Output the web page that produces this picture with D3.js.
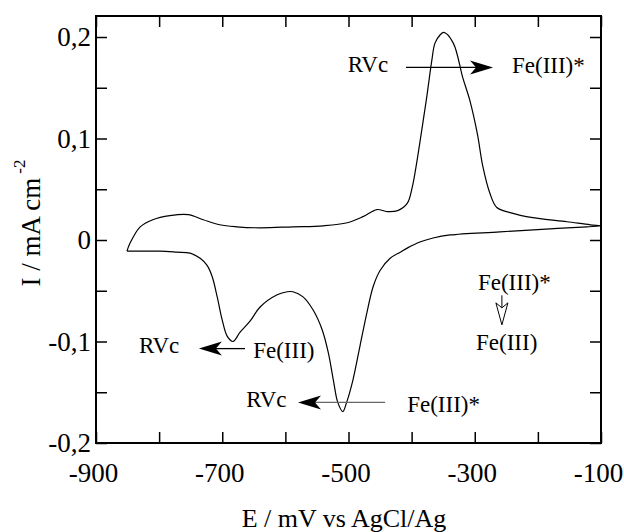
<!DOCTYPE html>
<html>
<head>
<meta charset="utf-8">
<script src="https://cdn.jsdelivr.net/npm/d3@7"></script>
<style>
body { margin: 0; background: #fff; }
text { font-family: "Liberation Serif", "Times New Roman", serif; fill: #000; }
</style>
</head>
<body>
<div id="chart"></div>
<script>
// scan path: anodic sweep from -850 mV to -100 mV, then back
var potential = [-851, -846, -830, -810, -783, -754, -730, -704, -677, -640, -588, -540, -502,
	-477, -455, -439, -422, -407, -399, -392, -384, -376, -368, -363, -355, -349, -334, -319,
	-308, -296, -287, -276, -265, -244, -208, -154, -117, -100,
	-122, -181, -260, -339, -366, -387, -407, -418, -434, -450, -461, -471, -482, -493, -503,
	-509, -517, -524, -532, -542, -556, -572, -588, -597, -613, -640, -656, -672, -683, -692,
	-700, -708, -716, -724, -735, -751, -772, -799, -826, -851];
var current = [-0.011, -0.003, 0.013, 0.020, 0.024, 0.025, 0.020, 0.015, 0.013, 0.012, 0.013, 0.014, 0.017,
	0.023, 0.030, 0.028, 0.029, 0.036, 0.052, 0.076, 0.108, 0.141, 0.177, 0.194, 0.202, 0.2045, 0.194, 0.160,
	0.138, 0.105, 0.072, 0.046, 0.032, 0.027, 0.022, 0.018, 0.015, 0.014,
	0.013, 0.011, 0.008, 0.005, 0.002, -0.002, -0.008, -0.012, -0.018, -0.030, -0.046, -0.072, -0.105, -0.138, -0.160,
	-0.169, -0.160, -0.138, -0.111, -0.088, -0.069, -0.056, -0.051, -0.051, -0.054, -0.066, -0.080, -0.091, -0.100, -0.095,
	-0.079, -0.056, -0.036, -0.025, -0.018, -0.013, -0.012, -0.011, -0.011, -0.011];

var xTicks = [-900, -800, -700, -600, -500, -400, -300, -200, -100];
var xLabels = [-900, -700, -500, -300, -100];
var yTicks = [-0.2, -0.15, -0.1, -0.05, 0, 0.05, 0.1, 0.15, 0.2];
var yLabels = [-0.2, -0.1, 0, 0.1, 0.2];

// annotation texts, placed in data coordinates (mV, mA cm-2)
var labels = [
	{t: "RVc", e: -501, i: 0.166},
	{t: "Fe(III)*", e: -241, i: 0.165},
	{t: "RVc", e: -832, i: -0.111},
	{t: "Fe(III)", e: -651, i: -0.116},
	{t: "RVc", e: -662, i: -0.165},
	{t: "Fe(III)*", e: -407, i: -0.169},
	{t: "Fe(III)*", e: -295, i: -0.049},
	{t: "Fe(III)", e: -298, i: -0.108}
];
var arrows = [
	{e0: -409, e1: -271, i: 0.170, col: "#000"},
	{e0: -664, e1: -737, i: -0.107, col: "#000"},
	{e0: -442, e1: -580, i: -0.160, col: "#666"}
];

var width = 624, height = 532;
var mLeft = 96, mTop = 16, mRight = 601, mBottom = 443;

var svg = d3.select("#chart").append("svg")
	.attr("width", width)
	.attr("height", height);

var x = d3.scaleLinear().domain([-900, -100]).range([mLeft, mRight]);
var y = d3.scaleLinear().domain([-0.2, 0.2207]).range([mBottom, mTop]);

function fmtY(d) {
	if (yLabels.indexOf(d) < 0) return "";
	return String(d).replace(".", ",");
}
function fmtX(d) {
	return xLabels.indexOf(d) < 0 ? "" : String(d);
}

var gB = svg.append("g").attr("transform", "translate(0," + mBottom + ")")
	.call(d3.axisBottom(x).tickValues(xTicks).tickSizeInner(-11).tickSizeOuter(0).tickPadding(20).tickFormat(fmtX));
var gT = svg.append("g").attr("transform", "translate(0," + mTop + ")")
	.call(d3.axisTop(x).tickValues(xTicks).tickSizeInner(-11).tickSizeOuter(0).tickFormat(""));
var gL = svg.append("g").attr("transform", "translate(" + mLeft + ",0)")
	.call(d3.axisLeft(y).tickValues(yTicks).tickSizeInner(-11).tickSizeOuter(0).tickPadding(5).tickFormat(fmtY));
var gR = svg.append("g").attr("transform", "translate(" + mRight + ",0)")
	.call(d3.axisRight(y).tickValues(yTicks).tickSizeInner(-11).tickSizeOuter(0).tickFormat(""));

[gB, gT, gL, gR].forEach(function(g) {
	g.select(".domain").remove();
	g.selectAll(".tick line").attr("stroke", "#000").attr("stroke-width", 1.5);
	g.selectAll("text").style("font-size", "27px").attr("font-family", null).attr("fill", "#000");
});
gB.selectAll("text").attr("dx", -3);

svg.append("rect")
	.attr("x", mLeft).attr("y", mTop)
	.attr("width", mRight - mLeft).attr("height", mBottom - mTop)
	.attr("fill", "none").attr("stroke", "#000").attr("stroke-width", 2);

// the voltammogram
var pts = potential.map(function(e, k) { return [e, current[k]]; });
var line = d3.line()
	.x(function(d) { return x(d[0]); })
	.y(function(d) { return y(d[1]); })
	.curve(d3.curveCatmullRom.alpha(0.5));

svg.append("path")
	.attr("d", line(pts))
	.attr("fill", "none")
	.attr("stroke", "#000")
	.attr("stroke-width", 1.2);

// annotations
svg.selectAll(".ann")
	.data(labels)
	.enter().append("text")
	.attr("class", "ann")
	.attr("x", function(d) { return x(d.e); })
	.attr("y", function(d) { return y(d.i); })
	.style("font-size", "23px")
	.text(function(d) { return d.t; });

arrows.forEach(function(a) {
	var x0 = x(a.e0), x1 = x(a.e1), yy = y(a.i);
	var dir = x1 > x0 ? 1 : -1;
	svg.append("line")
		.attr("x1", x0).attr("x2", x1 - dir * 16)
		.attr("y1", yy).attr("y2", yy)
		.attr("stroke", a.col).attr("stroke-width", 1.3);
	svg.append("path")
		.attr("d", "M" + x1 + "," + yy +
			"L" + (x1 - dir * 23) + "," + (yy - 7) +
			"L" + (x1 - dir * 17) + "," + yy +
			"L" + (x1 - dir * 23) + "," + (yy + 7) + "Z")
		.attr("fill", "#000");
});

// open arrow Fe(III)* -> Fe(III)
var ax = x(-257), ay0 = y(-0.0545), ay1 = y(-0.0836);
svg.append("line")
	.attr("x1", ax).attr("x2", ax)
	.attr("y1", ay0).attr("y2", ay1 - 17)
	.attr("stroke", "#000").attr("stroke-width", 1);
svg.append("path")
	.attr("d", "M" + ax + "," + ay1 + "L" + (ax - 6) + "," + (ay1 - 22) +
		"L" + ax + "," + (ay1 - 17) + "L" + (ax + 6) + "," + (ay1 - 22) + "Z")
	.attr("fill", "#fff").attr("stroke", "#000").attr("stroke-width", 1);

// axis titles
svg.append("text")
	.attr("x", 344).attr("y", 527)
	.attr("text-anchor", "middle")
	.style("font-size", "26px")
	.text("E / mV vs AgCl/Ag");

var yt = svg.append("text")
	.attr("transform", "translate(40,223) rotate(-90)")
	.attr("text-anchor", "middle")
	.style("font-size", "27px");
yt.append("tspan").text("I / mA cm");
yt.append("tspan").attr("dx", 4).attr("dy", -15).style("font-size", "17px").text("-2");
</script>
</body>
</html>
